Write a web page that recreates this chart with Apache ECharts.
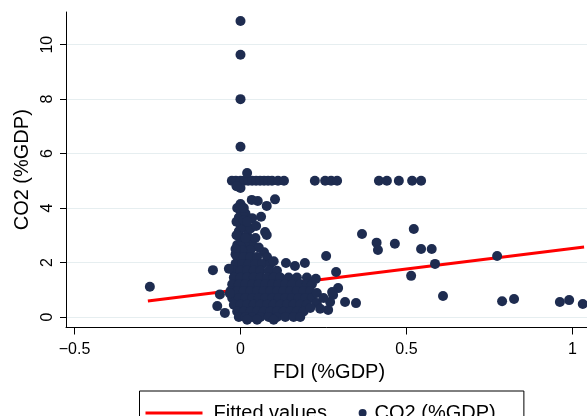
<!DOCTYPE html>
<html>
<head>
<meta charset="utf-8">
<script src="https://cdn.jsdelivr.net/npm/echarts@6/dist/echarts.min.js"></script>
<style>
  html, body { margin: 0; padding: 0; background: #fff; }
  #chart { width: 587px; height: 416px; }
</style>
</head>
<body>
<div id="chart"></div>
<script>
// tick values
const xTicks = [-0.5, 0, 0.5, 1]
const yTicks = [0, 2, 4, 6, 8, 10]

// fitted line end points
const fitFdi = [-0.279, 1.035]
const fitCo2 = [0.59, 2.57]

// isolated points high on the y axis
const topPoints = [[0, 10.87], [0, 9.63], [0, 8.0], [0, 6.25]]

// the row of points at CO2 = 5
const rowPoints = [
  [-0.026, 5.0], [-0.014, 5.0], [0, 5.0], [0.011, 5.0], [0.023, 5.0], [0.035, 5.0],
  [0.047, 5.0], [0.059, 5.0], [0.071, 5.0], [0.083, 5.0], [0.095, 5.0], [0.113, 5.0],
  [0.131, 5.0], [0.224, 5.0], [0.255, 5.0], [0.273, 5.0], [0.291, 5.0], [0.417, 5.0],
  [0.441, 5.0], [0.477, 5.0], [0.517, 5.0], [0.544, 5.0],
  [0.02, 5.29], [0, 4.74], [-0.012, 4.8]
]

// column of points just above the cluster
const columnPoints = [
  [0.0, 4.15], [0.0, 3.9], [-0.005, 3.65], [0.0, 3.4], [-0.005, 3.15], [0.0, 2.9],
  [0.005, 2.7], [0.01, 3.3], [0.015, 3.8], [0.012, 2.5], [0.02, 3.0], [0.025, 2.75],
  [0.03, 3.25], [0.035, 3.63], [0.034, 4.3], [0.047, 3.34], [0.052, 4.26], [0.062, 3.68],
  [0.074, 3.12], [0.079, 3.01], [0.079, 4.08], [0.104, 4.32], [0.071, 2.38], [0.04, 2.6],
  [0.045, 2.9], [0.055, 2.55], [-0.01, 2.64], [0.0, 2.6], [0.018, 2.3], [0.03, 2.45],
  [-0.012, 3.0], [-0.012, 3.5], [-0.01, 4.0], [0.01, 3.55], [0.01, 4.0], [0.015, 2.9],
  [0.02, 3.5], [0.005, 2.45], [-0.015, 2.3], [-0.015, 2.5]
]

// dense cluster near the origin
const clusterPoints = [
  [-0.01, 2.2], [0.01, 2.2], [0.03, 2.2], [0.05, 2.2], [0.08, 2.2],
  [-0.015, 1.95], [0.005, 1.95], [0.025, 1.95], [0.045, 1.95], [0.065, 1.95], [0.09, 1.95], [0.1, 2.05],
  [-0.02, 1.7], [0.0, 1.7], [0.02, 1.7], [0.04, 1.7], [0.06, 1.7], [0.085, 1.7], [0.11, 1.7],
  [-0.02, 1.45], [0.0, 1.45], [0.02, 1.45], [0.04, 1.45], [0.06, 1.45], [0.08, 1.45],
  [0.1, 1.45], [0.12, 1.45], [0.145, 1.45], [0.17, 1.45], [0.2, 1.45],
  [-0.025, 1.2], [-0.005, 1.2], [0.015, 1.2], [0.035, 1.2], [0.055, 1.2], [0.075, 1.2],
  [0.095, 1.2], [0.115, 1.2], [0.135, 1.2], [0.155, 1.2], [0.18, 1.2], [0.2, 1.2], [0.215, 1.2],
  [-0.03, 0.95], [-0.01, 0.95], [0.01, 0.95], [0.03, 0.95], [0.05, 0.95], [0.07, 0.95],
  [0.09, 0.95], [0.11, 0.95], [0.13, 0.95], [0.15, 0.95], [0.17, 0.95], [0.19, 0.95], [0.21, 0.95],
  [-0.025, 0.7], [-0.005, 0.7], [0.015, 0.7], [0.035, 0.7], [0.055, 0.7], [0.075, 0.7],
  [0.095, 0.7], [0.115, 0.7], [0.135, 0.7], [0.155, 0.7], [0.175, 0.7], [0.195, 0.7], [0.215, 0.7],
  [-0.02, 0.45], [0.0, 0.45], [0.02, 0.45], [0.04, 0.45], [0.06, 0.45], [0.08, 0.45],
  [0.1, 0.45], [0.12, 0.45], [0.14, 0.45], [0.16, 0.45], [0.18, 0.45], [0.2, 0.45],
  [-0.01, 0.2], [0.01, 0.2], [0.03, 0.2], [0.05, 0.2], [0.07, 0.2], [0.09, 0.2],
  [0.11, 0.2], [0.13, 0.2], [0.15, 0.2], [0.17, 0.2], [0.19, 0.2],
  [-0.005, 0.0], [0.015, 0.0], [0.035, 0.0], [0.06, 0.0], [0.085, 0.0], [0.11, 0.0],
  [0.135, 0.0], [0.16, 0.0], [0.18, 0.0], [0.02, -0.1], [0.05, -0.1], [0.1, -0.1]
]

// scattered points around and right of the cluster
const spreadPoints = [
  [-0.273, 1.11], [-0.083, 1.72], [-0.035, 1.77], [-0.062, 0.83], [-0.07, 0.4],
  [-0.047, 0.15], [-0.032, 0.86],
  [0.258, 2.24], [0.288, 1.65], [0.227, 1.4], [0.194, 1.98], [0.164, 1.87], [0.137, 1.98],
  [0.294, 1.06], [0.23, 0.88], [0.279, 0.81], [0.27, 0.55], [0.315, 0.55], [0.348, 0.51],
  [0.23, 0.51], [0.21, 0.33], [0.264, 0.26], [0.276, 0.92], [0.25, 0.7], [0.24, 0.3],
  [0.366, 3.05], [0.41, 2.73], [0.414, 2.46], [0.465, 2.69], [0.522, 3.23], [0.544, 2.5],
  [0.576, 2.5], [0.586, 1.95], [0.514, 1.51], [0.61, 0.77], [0.773, 2.24], [0.788, 0.58],
  [0.824, 0.66], [0.962, 0.55], [0.99, 0.62], [1.031, 0.48]
]

const scatterData = [].concat(topPoints, rowPoints, columnPoints, clusterPoints, spreadPoints)
const fitData = fitFdi.map((x, i) => [x, fitCo2[i]])

const FONT = 'Arial, "Liberation Sans", Helvetica, sans-serif'
const NAVY = '#1e2c50'

function fmt(v) {
  return v < 0 ? '\u2212' + String(-v) : String(v)
}

const chart = echarts.init(document.getElementById('chart'))
chart.setOption({
  animation: false,
  backgroundColor: '#fff',
  textStyle: { fontFamily: FONT },
  // plot region runs a little past the right edge of the window
  grid: { left: 66, top: 12, width: 526, height: 315.5, containLabel: false, outerBoundsMode: 'none' },
  legend: [
    {
      data: [{ name: 'Fitted values', icon: 'rect' }],
      left: 139.5,
      top: 391,
      padding: [12, 197, 12, 6],
      itemWidth: 57,
      itemHeight: 3,
      borderColor: '#000',
      borderWidth: 1,
      textStyle: { fontSize: 20, color: '#000', fontFamily: FONT, padding: [0, 0, 0, 6] },
    },
    {
      data: [{ name: 'CO2 (%GDP)', icon: 'circle' }],
      left: 358.6,
      top: 391,
      padding: [12, 0, 12, 0],
      itemWidth: 8,
      itemHeight: 8,
      textStyle: { fontSize: 20, color: '#000', fontFamily: FONT, padding: [0, 0, 0, 3] },
    },
  ],
  xAxis: {
    type: 'value',
    min: -0.5256,
    max: 1.0588,
    name: 'FDI (%GDP)',
    nameLocation: 'middle',
    nameGap: 30,
    nameTextStyle: { fontSize: 20, color: '#000', fontFamily: FONT },
    axisLine: { show: true, onZero: false, lineStyle: { color: '#000', width: 1 } },
    axisTick: { show: true, length: 7, customValues: xTicks, lineStyle: { color: '#000' } },
    axisLabel: { customValues: xTicks, formatter: fmt, fontSize: 16, color: '#000', margin: 14, fontFamily: FONT },
    splitLine: { show: false },
  },
  yAxis: {
    type: 'value',
    min: -0.386,
    max: 11.2,
    name: 'CO2 (%GDP)',
    nameLocation: 'middle',
    nameGap: 32,
    nameRotate: 90,
    nameTextStyle: { fontSize: 20, color: '#000', fontFamily: FONT },
    axisLine: { show: true, onZero: false, lineStyle: { color: '#000', width: 1 } },
    axisTick: { show: true, length: 6, customValues: yTicks, lineStyle: { color: '#000' } },
    axisLabel: { customValues: yTicks, rotate: 90, fontSize: 16, color: '#000', margin: 10, fontFamily: FONT },
    splitLine: { show: true, lineStyle: { color: '#e6eef0', width: 1 } },
  },
  series: [
    {
      name: 'Fitted values',
      type: 'line',
      data: fitData,
      symbol: 'none',
      z: 1,
      lineStyle: { color: '#ff0000', width: 3 },
      itemStyle: { color: '#ff0000' },
    },
    {
      name: 'CO2 (%GDP)',
      type: 'scatter',
      data: scatterData,
      symbolSize: 10,
      z: 2,
      itemStyle: { color: NAVY, opacity: 1 },
    },
  ],
})
</script>
</body>
</html>
